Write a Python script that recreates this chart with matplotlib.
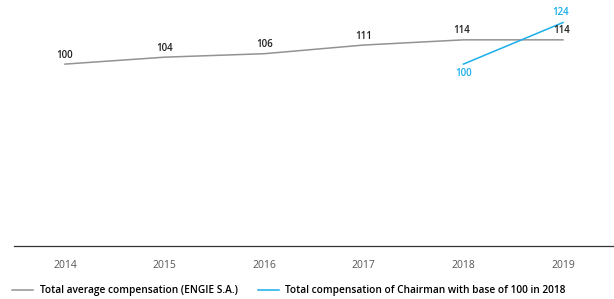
import matplotlib.pyplot as plt
import numpy as np

plt.rcParams["font.family"] = ["Open Sans", "DejaVu Sans"]

years = ["2014", "2015", "2016", "2017", "2018", "2019"]
avg_comp = [100, 104, 106, 111, 114, 114]
chair_years = ["2018", "2019"]
chair_comp = [100, 124]

gray = "#939393"
blue = "#1aaeea"

fig = plt.figure(figsize=(6.14, 2.99), dpi=100)
ax = fig.add_axes([14/614, 53/299, 600/614, 246/299])

x = np.arange(len(years))
xc = np.array([years.index(y) for y in chair_years])
ax.plot(x, avg_comp, color=gray, lw=1.1,
        label="Total average compensation (ENGIE S.A.)")
ax.plot(xc, chair_comp, color=blue, lw=1.1,
        label="Total compensation of Chairman with base of 100 in 2018")

for xi, v in zip(x, avg_comp):
    ax.annotate(str(v), (xi, v), xytext=(-1 if xi >= 4 else 0, 2.5),
                textcoords="offset points", ha="center", va="bottom",
                fontsize=7, color="#222222", fontweight="semibold")
ax.annotate(str(chair_comp[0]), (xc[0], chair_comp[0]), xytext=(0, -3),
            textcoords="offset points", ha="center", va="top", fontsize=7,
            color=blue, fontweight="semibold")
ax.annotate(str(chair_comp[1]), (xc[1], chair_comp[1]), xytext=(-2, 3),
            textcoords="offset points", ha="center", va="bottom", fontsize=7,
            color=blue, fontweight="semibold")

ax.set_xlim(-0.512, 5.512)
ax.set_ylim(-5, 137)
ax.set_xticks(x)
ax.set_xticklabels(years, fontsize=7.5, color="#555555")
ax.tick_params(axis="x", length=0, pad=10)
ax.set_yticks([])
for s in ["top", "right", "left"]:
    ax.spines[s].set_visible(False)
ax.spines["bottom"].set_color("#333333")
ax.spines["bottom"].set_linewidth(0.9)

fig.legend(loc="lower left", bbox_to_anchor=(0.005, -0.022), ncol=2,
           frameon=False, handlelength=2.1, columnspacing=2.0,
           handletextpad=0.6,
           prop={"weight": "semibold", "size": 7.3})

fig.savefig("out.png", dpi=100)
